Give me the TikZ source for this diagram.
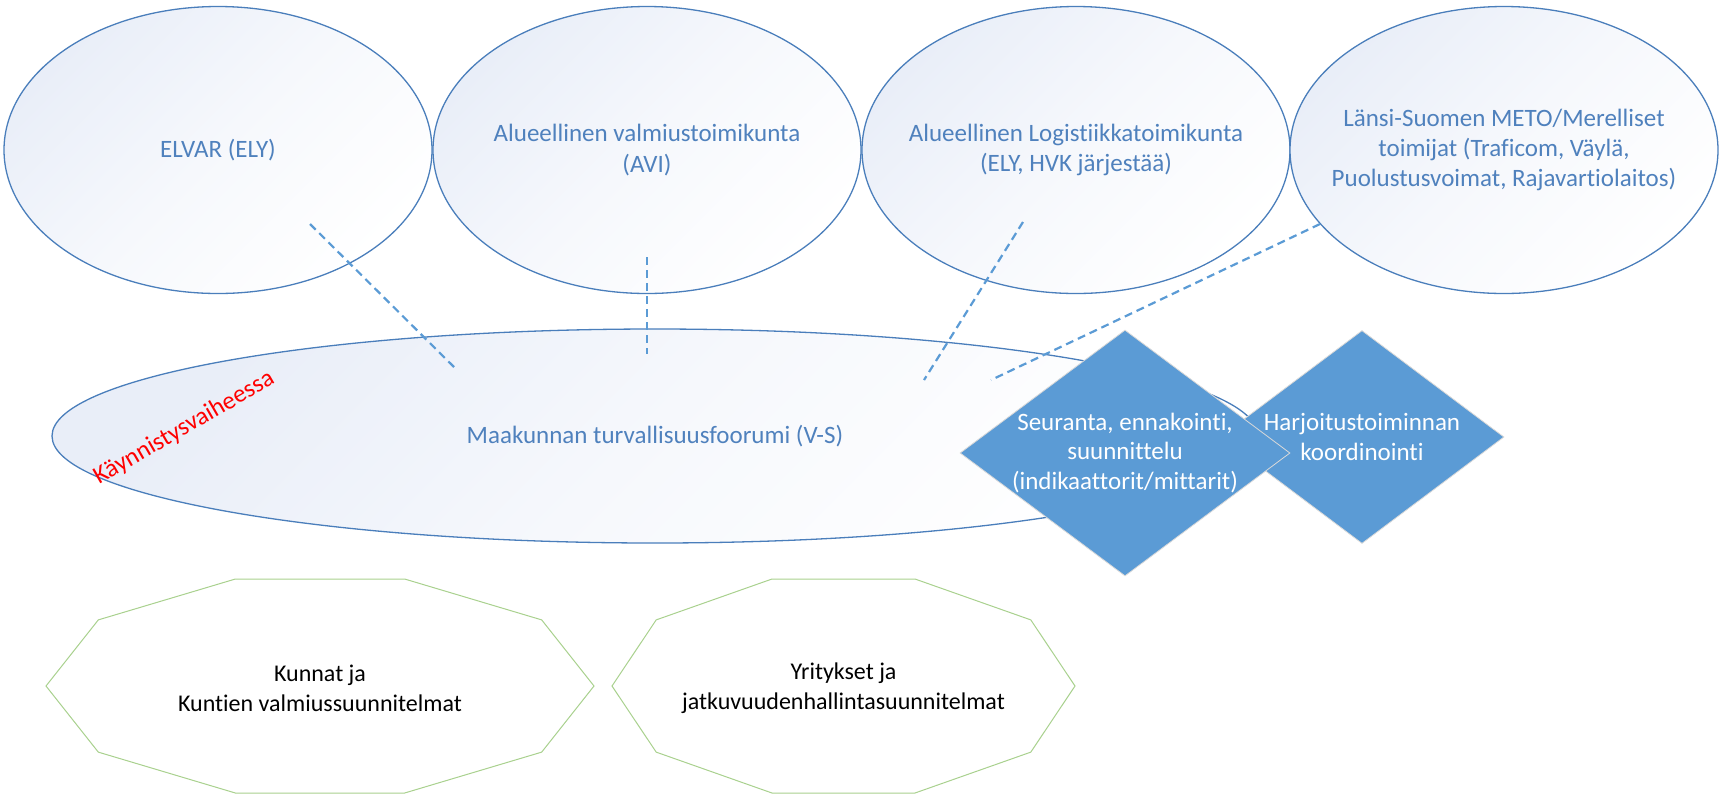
\documentclass[tikz,border=0pt]{standalone}
\usepackage{fontspec}
\setmainfont{Carlito}[Ligatures=NoCommon]
\usetikzlibrary{shapes.geometric}
\definecolor{ellline}{HTML}{4A7EBB}
\definecolor{elltext}{HTML}{4F81BD}
\definecolor{ellfill}{HTML}{E9EEF8}
\definecolor{dashblue}{HTML}{5B9BD5}
\definecolor{diafill}{HTML}{5B9BD5}
\definecolor{decaline}{HTML}{A9D18E}
\begin{document}
\begin{tikzpicture}[x=0.5pt, y=-0.5pt,
    orgell/.style={ellipse, draw=ellline, line width=0.65pt, inner sep=0pt,
      top color=ellfill, bottom color=white, middle color=white!60!ellfill, shading angle=45,
      minimum width=214pt, minimum height=143.5pt},
    orgtext/.style={text=elltext, align=center, font=\fontsize{12.5}{15.2}\selectfont},
    linkline/.style={draw=dashblue, line width=1.1pt, dash pattern=on 4pt off 2.5pt},
    taskdia/.style={diamond, fill=diafill, draw=white!70!gray, line width=0.4pt, inner sep=0pt},
    tasktext/.style={text=white, align=center, font=\fontsize{12.5}{14.6}\selectfont},
    planline/.style={draw=decaline, line width=0.5pt, fill=white},
    plantext/.style={text=black, align=center, font=\fontsize{12}{15}\selectfont}]
  \useasboundingbox (0,0) rectangle (1719,794);
  % ylarivi
  \node[orgell]  (elvar)   at ( 218, 150) {};
  \node[orgell]  (avi)     at ( 647, 150) {};
  \node[orgell]  (logist)  at (1076, 150) {};
  \node[orgell]  (meto)    at (1504, 150) {};
  \node[orgell, minimum width=603pt, minimum height=107pt] (foorumi) at (655, 436) {};
  \node[orgtext] (elvar-t)   at (elvar)   {ELVAR (ELY)};
  \node[orgtext] (avi-t)     at (avi)     {Alueellinen valmiustoimikunta\\(AVI)};
  \node[orgtext] (logist-t)  at (logist)  {Alueellinen Logistiikkatoimikunta\\(ELY, HVK järjestää)};
  \node[orgtext] (meto-t)    at (meto)    {Länsi-Suomen METO/Merelliset\\toimijat (Traficom, Väylä,\\Puolustusvoimat, Rajavartiolaitos)};
  \node[orgtext] (foorumi-t) at (foorumi) {Maakunnan turvallisuusfoorumi (V-S)};
  % katkoviivat
  \coordinate (elvar-a)  at ( 310, 224);  \coordinate (foorumi-a) at ( 457, 370);
  \coordinate (avi-a)    at ( 647, 257);  \coordinate (foorumi-b) at ( 647, 354);
  \coordinate (logist-a) at (1023, 222);  \coordinate (foorumi-c) at ( 924, 380);
  \coordinate (meto-a)   at (1320, 224);  \coordinate (foorumi-d) at ( 991, 380);
  \draw[linkline] (elvar-a)  -- (foorumi-a);
  \draw[linkline] (avi-a)    -- (foorumi-b);
  \draw[linkline] (logist-a) -- (foorumi-c);
  \draw[linkline] (meto-a)   -- (foorumi-d);
  % vinoneliot
  \node[taskdia, minimum width=142pt, minimum height=106.5pt] (harjoitus) at (1362, 437) {};
  \node[taskdia, minimum width=165pt, minimum height=123pt]   (seuranta)  at (1125, 453) {};
  \node[tasktext] (seuranta-t)  at (seuranta)  {Seuranta, ennakointi,\\suunnittelu\\(indikaattorit/mittarit)};
  \node[tasktext] (harjoitus-t) at (harjoitus) {Harjoitustoiminnan\\koordinointi};
  \node[text=red, rotate=30, font=\fontsize{12.5}{15}\selectfont] (vaihe) at (184, 428) {Käynnistysvaiheessa};
  % alarivi
  \draw[planline] plot[samples=10, domain=0:324] ({320+274*cos(\x)}, {686+112.5*sin(\x)}) -- cycle;
  \draw[planline] plot[samples=10, domain=0:324] ({843.5+231.5*cos(\x)}, {686+112.5*sin(\x)}) -- cycle;
  \node[plantext] (kunnat)    at ( 320, 688) {Kunnat ja\\Kuntien valmiussuunnitelmat};
  \node[plantext] (yritykset) at (843.5, 688) {Yritykset ja\\jatkuvuudenhallintasuunnitelmat};
\end{tikzpicture}
\end{document}
